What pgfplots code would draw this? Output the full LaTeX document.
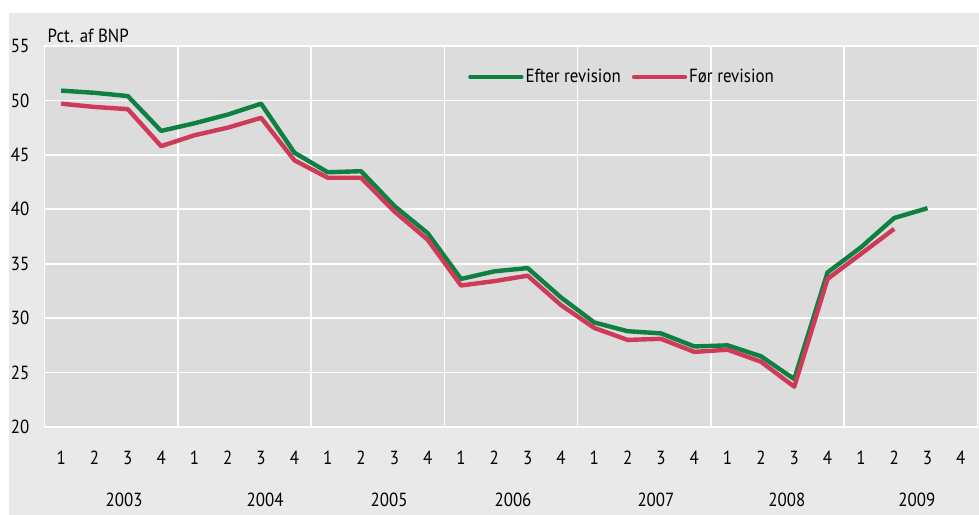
\documentclass[border=0pt]{standalone}
\usepackage{pgfplots}
\pgfplotsset{compat=1.18}
\usepackage{fontspec}
\setmainfont{PT Sans}[FakeStretch=0.89]
\definecolor{outergray}{HTML}{E9E9E9}
\definecolor{plotgray}{HTML}{DCDCDC}
\definecolor{effgreen}{HTML}{0E8042}
\definecolor{forred}{HTML}{CE3A58}
\newcommand{\chartfont}{\fontsize{19bp}{22bp}\selectfont}
\begin{document}
\chartfont
\begin{tikzpicture}
\useasboundingbox (-44.5bp,-88bp) rectangle (934.5bp,427bp);
\fill[outergray] (-35.5bp,-88bp) rectangle (934.5bp,414bp);
\begin{axis}[
  scale only axis,
  width=933bp, height=381bp,
  xmin=-0.5, xmax=27.5, ymin=20, ymax=55,
  axis background/.style={fill=plotgray},
  axis line style={draw=white, line width=1.6bp},
  xtick={0,...,27},
  xticklabels={1,2,3,4,1,2,3,4,1,2,3,4,1,2,3,4,1,2,3,4,1,2,3,4,1,2,3,4},
  minor xtick={3.5,7.5,11.5,15.5,19.5,23.5},
  xminorgrids=true, xmajorgrids=false,
  ytick={20,25,...,55}, ymajorgrids=true,
  grid style={draw=white, line width=1.6bp},
  minor grid style={draw=white, line width=1.6bp},
  major tick length=0pt, minor tick length=0pt,
  tick style={draw=none},
  /pgf/number format/assume math mode=true,
  xticklabel style={anchor=center, inner sep=0pt, yshift=-31bp, font=\chartfont},
  yticklabel style={anchor=east, inner sep=0pt, xshift=-15bp, font=\chartfont},
  clip=false,
  legend columns=2,
  legend style={at={(0.619,0.9186)}, anchor=center, draw=none, fill=none,
    font=\chartfont, inner sep=0pt,
    /tikz/every even column/.append style={column sep=9bp}},
  legend image code/.code={\draw[#1, line width=4.4bp, line cap=round] (0bp,0bp) -- (51bp,0bp);},
  legend cell align=left,
]
\addplot[effgreen, line width=4.4bp, line join=round] coordinates {
(0,50.9) (1,50.7) (2,50.4) (3,47.2)
(4,47.9) (5,48.7) (6,49.7) (7,45.2)
(8,43.4) (9,43.5) (10,40.3) (11,37.8)
(12,33.6) (13,34.3) (14,34.6) (15,31.9)
(16,29.6) (17,28.8) (18,28.6) (19,27.4)
(20,27.5) (21,26.5) (22,24.4) (23,34.2)
(24,36.5) (25,39.2) (26,40.1)
};
\addlegendentry{Efter revision}
\addplot[forred, line width=4.4bp, line join=round] coordinates {
(0,49.7) (1,49.4) (2,49.2) (3,45.8)
(4,46.8) (5,47.5) (6,48.4) (7,44.5)
(8,42.9) (9,42.9) (10,39.8) (11,37.2)
(12,33.0) (13,33.4) (14,33.9) (15,31.2)
(16,29.1) (17,28.0) (18,28.1) (19,26.9)
(20,27.1) (21,26.0) (22,23.7) (23,33.6)
(24,35.9) (25,38.2)
};
\addlegendentry{Før revision}
\node[anchor=south west, inner sep=0pt] at (rel axis cs:0,1) [xshift=3bp, yshift=3bp] {Pct. af BNP};
\node[inner sep=0pt] at (axis cs:1.89,20) [yshift=-73bp] {2003};
\node[inner sep=0pt] at (axis cs:6.12,20) [yshift=-73bp] {2004};
\node[inner sep=0pt] at (axis cs:9.84,20) [yshift=-73bp] {2005};
\node[inner sep=0pt] at (axis cs:13.56,20) [yshift=-73bp] {2006};
\node[inner sep=0pt] at (axis cs:17.85,20) [yshift=-73bp] {2007};
\node[inner sep=0pt] at (axis cs:21.78,20) [yshift=-73bp] {2008};
\node[inner sep=0pt] at (axis cs:25.68,20) [yshift=-73bp] {2009};
\end{axis}
\end{tikzpicture}
\end{document}
